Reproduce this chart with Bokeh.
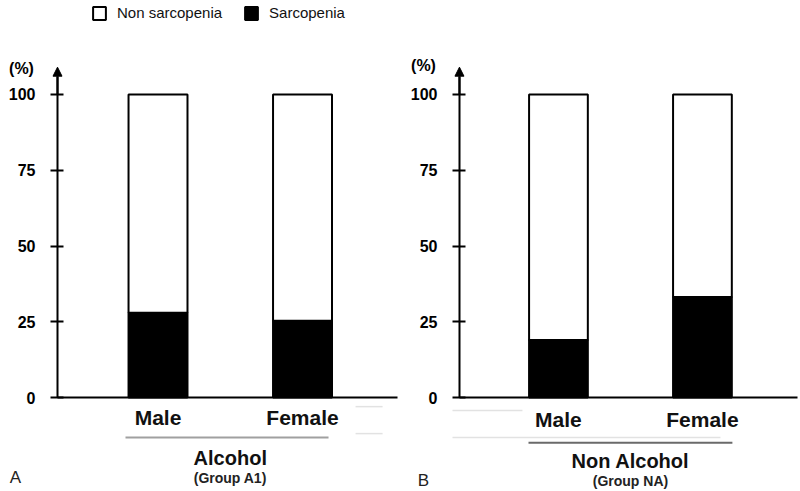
from bokeh.plotting import figure
from bokeh.models import (Range1d, FixedTicker, LinearAxis, Label, Arrow,
                          NormalHead, Legend, LegendItem, ColumnDataSource)
from bokeh.layouts import row
from bokeh.embed import file_html
from bokeh.resources import INLINE

# ---- data ----
sexes = ["Male", "Female"]
alcohol_sarcopenia = [28.0, 25.3]        # % sarcopenia, Group A1
nonalcohol_sarcopenia = [19.0, 33.2]     # % sarcopenia, Group NA
y_ticks = [0, 25, 50, 75, 100]
group_names = ["Alcohol", "Non Alcohol"]
group_codes = ["(Group A1)", "(Group NA)"]
panel_letters = ["A", "B"]
series_names = ["Non sarcopenia", "Sarcopenia"]

FONT = "Liberation Sans"
W, H = 400, 491
Y0, Y1 = -31.0, 131.0


def make_panel(sarc, name, code, letter, xr, axis_x, base_end, cat_standoff,
               line_y, uline, name_y, code_y, letter_x, pct_x, pct_y,
               uline_color, faint, legend=False):
    pos = list(range(len(sexes)))
    src = ColumnDataSource(dict(pos=pos, sarc=sarc,
                                non=[100 - s for s in sarc]))
    p = figure(x_range=Range1d(*xr), y_range=Range1d(Y0, Y1),
               width=W, height=H, output_backend="svg",
               toolbar_location=None, x_axis_location=None,
               y_axis_location=None, min_border=0)
    p.outline_line_color = None
    p.grid.visible = False

    rs = p.vbar_stack(["sarc", "non"], x="pos", width=0.408, source=src,
                      fill_color=["black", "white"], line_color="black",
                      line_width=2)

    # y axis drawn at a fixed x position inside the frame
    ya = LinearAxis(fixed_location=axis_x, ticker=FixedTicker(ticks=y_ticks),
                    bounds=(0, 106))
    ya.axis_line_width = 2
    ya.major_tick_line_width = 2
    ya.major_tick_in = 6
    ya.major_tick_out = 7
    ya.minor_tick_line_color = None
    ya.major_label_standoff = 15
    ya.major_label_text_font = FONT
    ya.major_label_text_font_size = "16px"
    ya.major_label_text_font_style = "bold"
    ya.major_label_text_color = "black"
    p.add_layout(ya, "left")

    # x axis (baseline + category names) at y = 0
    xa = LinearAxis(fixed_location=0, ticker=FixedTicker(ticks=pos),
                    bounds=(axis_x, base_end),
                    major_label_overrides={i: s for i, s in zip(pos, sexes)})
    xa.axis_line_width = 2
    xa.major_tick_line_color = None
    xa.minor_tick_line_color = None
    xa.major_label_standoff = cat_standoff
    xa.major_label_text_font = FONT
    xa.major_label_text_font_size = "21px"
    xa.major_label_text_font_style = "bold"
    xa.major_label_text_color = "#111111"
    p.add_layout(xa, "below")

    p.add_layout(Arrow(end=NormalHead(size=9, fill_color="black",
                                      line_color="black", line_width=1),
                       x_start=axis_x, y_start=100, x_end=axis_x, y_end=109,
                       line_width=2, line_color="black"))

    # faint scan artefact lines
    for (fx0, fx1, fy) in faint:
        p.segment(x0=[fx0], y0=[fy], x1=[fx1], y1=[fy], line_color="#e2e2e2",
                  line_width=1.5)

    p.segment(x0=[uline[0]], y0=[line_y], x1=[uline[1]], y1=[line_y],
              line_color=uline_color, line_width=2)

    p.add_layout(Label(x=0.5, y=name_y, text=name, text_font=FONT,
                       text_font_style="bold", text_font_size="20px",
                       text_align="center", text_baseline="middle",
                       text_color="#111111"))
    p.add_layout(Label(x=0.5, y=code_y, text=code, text_font=FONT,
                       text_font_style="bold", text_font_size="14px",
                       text_align="center", text_baseline="middle",
                       text_color="#222222"))
    p.add_layout(Label(x=letter_x, x_units="screen", y=code_y, text=letter,
                       text_font=FONT, text_font_size="17px",
                       text_align="center", text_baseline="middle",
                       text_color="#222222"))
    p.add_layout(Label(x=pct_x, x_units="screen", y=pct_y, text="(%)",
                       text_font=FONT, text_font_style="bold",
                       text_font_size="16px", text_align="center",
                       text_baseline="middle", text_color="black"))

    if legend:
        lg = Legend(items=[LegendItem(label=series_names[0], renderers=[rs[1]]),
                           LegendItem(label=series_names[1], renderers=[rs[0]])],
                    orientation="horizontal", location=(91, H - 21),
                    padding=0, margin=0, spacing=21, label_standoff=10,
                    glyph_width=16, glyph_height=16, label_height=16,
                    label_text_font=FONT, label_text_font_size="15px",
                    label_text_color="#111111",
                    border_line_color=None, background_fill_alpha=0)
        p.add_layout(lg)
    return p


p1 = make_panel(alcohol_sarcopenia, group_names[0], group_codes[0],
                panel_letters[0], xr=(-1.090, 1.678), axis_x=-0.6955,
                base_end=1.657, cat_standoff=2, line_y=-13.2,
                uline=(-0.225, 1.18), name_y=-19.8, code_y=-26.4,
                letter_x=15, pct_x=21, pct_y=108.6, uline_color="#a0a0a0",
                faint=[(1.367, 1.554, -3.0), (1.367, 1.554, -11.9)],
                legend=True)
p2 = make_panel(nonalcohol_sarcopenia, group_names[1], group_codes[1],
                panel_letters[1], xr=(-1.097, 1.681), axis_x=-0.6875,
                base_end=1.66, cat_standoff=4, line_y=-14.9,
                uline=(-0.208, 1.208), name_y=-20.8, code_y=-27.4,
                letter_x=23, pct_x=23, pct_y=109.6, uline_color="#6a6a6a",
                faint=[(-0.736, -0.25, -4.3), (-0.736, 1.125, -13.2)])

layout = row(p1, p2)
open("out.html", "w").write(file_html(layout, INLINE))
